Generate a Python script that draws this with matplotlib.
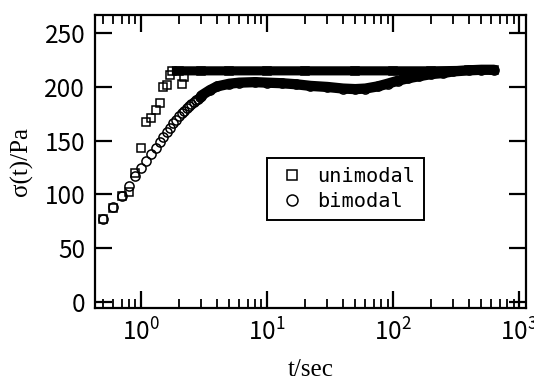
import numpy as np
import matplotlib
matplotlib.use('Agg')
import matplotlib.pyplot as plt
from matplotlib.ticker import LogLocator, FixedLocator, NullFormatter

# unimodal, sparse start (individual squares)
t_uni_pts = [0.5, 0.6, 0.7, 0.8, 0.9, 1.0, 1.1, 1.2, 1.3, 1.4, 1.5, 1.6, 1.7, 2.1, 2.2]
s_uni_pts = [77, 87, 98, 102, 120, 143, 167, 171, 179, 185, 200, 201.5, 211, 203, 209]
# unimodal, dense plateau (points merge into a band)
t_uni_band = [1.75, 2.0, 3, 5, 10, 20, 50, 100, 200, 400, 630]
s_uni_band = [215, 215, 215, 215, 215, 215, 215, 215, 215, 215.5, 216]

# bimodal, sparse start (individual circles)
t_bi_pts = [0.5, 0.6, 0.7, 0.8, 0.9, 1.0, 1.1, 1.2, 1.3, 1.4, 1.5,
            1.6, 1.7, 1.8, 1.9, 2.0, 2.1, 2.2, 2.3, 2.4, 2.5, 2.6, 2.7, 2.8, 2.9, 3.0]
s_bi_pts = [77, 88, 98, 108, 117, 125, 131.5, 138, 143.5, 148.5, 153,
            158, 162, 166, 169.5, 173, 175.5, 178, 180.5, 182.5, 184.5, 186, 187.5, 189, 190.5, 192]
# bimodal, dense part
t_bi_band = [3.0, 3.5, 4, 5, 6, 8, 10, 13, 17, 22, 30, 40, 50, 60, 75, 90,
             110, 130, 160, 200, 250, 300, 400, 500, 630]
s_bi_band = [192, 197, 200.5, 203, 204, 204.5, 204, 203.5, 202.5, 201, 200, 198.5, 198, 198.5,
             200.5, 203, 206, 208, 210, 212, 213, 214.5, 215.5, 216, 216]

yticks = [0, 50, 100, 150, 200, 250]

tick_font = 'Noto Sans CJK JP'
plt.rcParams['font.family'] = [tick_font, 'DejaVu Sans']
plt.rcParams['mathtext.fontset'] = 'custom'
plt.rcParams['mathtext.rm'] = tick_font
plt.rcParams['mathtext.it'] = tick_font
plt.rcParams['mathtext.default'] = 'regular'

fig = plt.figure(figsize=(5.34, 3.80), dpi=100)
ax = fig.add_axes([0.178, 0.189, 0.807, 0.7715])

ms_sq = 6.2
ms_ci = 6.6
mew = 1.1

# dense parts drawn as thick bands
ax.plot(t_uni_band, s_uni_band, '-', color='black', lw=6.6, solid_capstyle='butt', zorder=2)
ax.plot(t_bi_band, s_bi_band, '-', color='black', lw=7.4, solid_capstyle='round', zorder=2)
ax.plot(t_uni_band, s_uni_band, 's', mfc='none', mec='black', ms=ms_sq, mew=mew, zorder=3)
ax.plot(t_bi_band, s_bi_band, 'o', mfc='none', mec='black', ms=ms_ci, mew=mew, zorder=3)

ax.plot(t_uni_pts, s_uni_pts, 's', mfc='none', mec='black', ms=ms_sq, mew=mew, zorder=3,
        label='unimodal')
ax.plot(t_bi_pts, s_bi_pts, 'o', mfc='none', mec='black', ms=ms_ci, mew=mew, zorder=3,
        label='bimodal')

ax.set_xscale('log')
ax.set_xlim(0.43, 1130)
ax.set_ylim(-6, 267)

ax.xaxis.set_major_locator(FixedLocator([1, 10, 100, 1000]))
ax.set_xticklabels([r'$10^{0}$', r'$10^{1}$', r'$10^{2}$', r'$10^{3}$'])
ax.xaxis.set_minor_locator(LogLocator(base=10, subs=np.arange(2, 10), numticks=20))
ax.xaxis.set_minor_formatter(NullFormatter())
ax.set_yticks(yticks)
ax.set_yticklabels([str(v) for v in yticks])

for s in ax.spines.values():
    s.set_linewidth(1.6)

ax.tick_params(which='major', direction='in', length=12.5, width=1.6,
               top=True, right=True, labelsize=17.5)
ax.tick_params(which='minor', direction='in', length=6.5, width=1.3, top=True, right=True)
ax.tick_params(axis='x', which='major', pad=8)
ax.tick_params(axis='y', which='major', pad=7)

ax.set_xlabel('t/sec', family='Liberation Serif', fontsize=18, labelpad=9)
ax.set_ylabel('σ(t)/Pa', family='Liberation Serif', fontsize=18, labelpad=8)

leg = ax.legend(loc='upper left', bbox_to_anchor=(0.398, 0.511),
                prop={'family': 'DejaVu Sans Mono', 'size': 14.6},
                frameon=True, fancybox=False, edgecolor='black', framealpha=1,
                borderpad=0.45, handlelength=1.6, handletextpad=0.45, markerscale=1.2,
                labelspacing=0.28, borderaxespad=0)
leg.get_frame().set_linewidth(1.4)

fig.savefig('out.png', dpi=100)
